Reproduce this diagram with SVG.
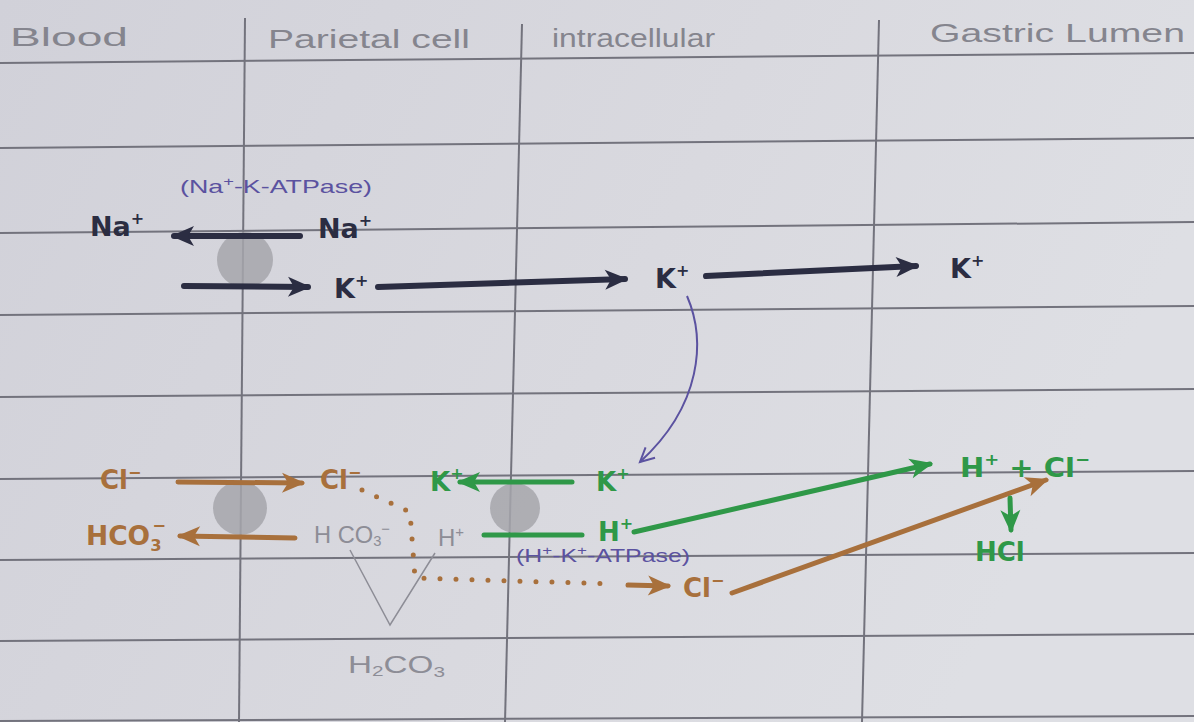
<svg xmlns="http://www.w3.org/2000/svg" width="1194" height="722" viewBox="0 0 1194 722">
<defs>
<linearGradient id="paper" x1="0" y1="0" x2="1" y2="0.3">
<stop offset="0" stop-color="#d1d1d9"/>
<stop offset="0.6" stop-color="#d9d9df"/>
<stop offset="1" stop-color="#dedfe4"/>
</linearGradient>
<marker id="hNavy" markerUnits="userSpaceOnUse" markerWidth="28" markerHeight="24" refX="22" refY="12" orient="auto"><path d="M2,2 L25,12 L2,22 L8,12 Z" fill="#2b2d42"/></marker>
<marker id="hBrown" markerUnits="userSpaceOnUse" markerWidth="28" markerHeight="24" refX="22" refY="12" orient="auto"><path d="M2,2 L25,12 L2,22 L8,12 Z" fill="#a8703c"/></marker>
<marker id="hGreen" markerUnits="userSpaceOnUse" markerWidth="28" markerHeight="24" refX="22" refY="12" orient="auto"><path d="M2,2 L25,12 L2,22 L8,12 Z" fill="#2f9848"/></marker>
<marker id="hPurple" markerUnits="userSpaceOnUse" markerWidth="24" markerHeight="20" refX="18" refY="10" orient="auto"><path d="M4,3 L18,10 L4,17" fill="none" stroke="#5b52a0" stroke-width="2"/></marker>
</defs>
<style>
.rule{stroke:#73737d;stroke-width:2;fill:none}
.hdr{font-family:"Liberation Sans",sans-serif;fill:#85858e;font-size:26px}
.navy{font-family:"DejaVu Sans",sans-serif;font-weight:bold;fill:#2b2d42;font-size:27px}
.brown{font-family:"DejaVu Sans",sans-serif;font-weight:bold;fill:#a8703c;font-size:26px}
.green{font-family:"DejaVu Sans",sans-serif;font-weight:bold;fill:#2f9848;font-size:26px}
.purple{font-family:"Liberation Sans",sans-serif;fill:#5b52a0;font-size:19px}
.pencil{font-family:"Liberation Sans",sans-serif;fill:#8d8d96;font-size:24px}
.sup{font-size:16px}
.purple .sup{font-size:13px}
.pencil .sup{font-size:15px}
.aN{stroke:#2b2d42;stroke-width:6;fill:none;stroke-linecap:round;marker-end:url(#hNavy)}
.aB{stroke:#a8703c;stroke-width:5;fill:none;stroke-linecap:round}
.aG{stroke:#2f9848;stroke-width:5;fill:none;stroke-linecap:round}
.pump{fill:#a6a6ac;opacity:0.85}
</style>
<rect width="1194" height="722" fill="url(#paper)"/>
<g id="paper-lines">
<path class="rule" d="M0,63 L1194,53" stroke-width="3"/>
<path class="rule" d="M0,148 L1194,138"/>
<path class="rule" d="M0,233 L1194,222"/>
<path class="rule" d="M0,315 L1194,306"/>
<path class="rule" d="M0,397 L1194,389"/>
<path class="rule" d="M0,479 L1194,471"/>
<path class="rule" d="M0,560 L1194,553"/>
<path class="rule" d="M0,641 L1194,634"/>
<path class="rule" d="M0,721 L1194,716"/>
<path class="rule" d="M245,18 L239,722" stroke-width="1.6"/>
<path class="rule" d="M522,24 L505,722" stroke-width="1.6"/>
<path class="rule" d="M879,20 L862,722" stroke-width="1.6"/>
</g>
<g id="headers">
<text class="hdr" x="10" y="46" textLength="118" lengthAdjust="spacingAndGlyphs" font-size="30">Blood</text>
<text class="hdr" x="268" y="48" textLength="202" lengthAdjust="spacingAndGlyphs">Parietal  cell</text>
<text class="hdr" x="552" y="47" textLength="163" lengthAdjust="spacingAndGlyphs">intracellular</text>
<text class="hdr" x="930" y="42" textLength="255" lengthAdjust="spacingAndGlyphs" font-size="28">Gastric  Lumen</text>
</g>
<g id="pumps">
<circle class="pump" cx="245" cy="260" r="28"/>
<circle class="pump" cx="240" cy="508" r="27"/>
<circle class="pump" cx="515" cy="508" r="25"/>
</g>
<g id="connectors">
<path class="aN" d="M300,236 L174,236"/>
<path class="aN" d="M184,286 L308,287"/>
<path class="aN" d="M378,287 L625,279"/>
<path class="aN" d="M706,276 L916,266"/>
<path d="M687,296 C706,340 702,405 640,462" fill="none" stroke="#5b52a0" stroke-width="2" marker-end="url(#hPurple)"/>
<path class="aB" d="M178,482 L302,483" marker-end="url(#hBrown)"/>
<path class="aB" d="M295,538 L180,536" marker-end="url(#hBrown)"/>
<path d="M362,490 L410,512 L415,578 L615,584" fill="none" stroke="#a8703c" stroke-width="5" stroke-linecap="round" stroke-dasharray="0 16"/>
<path class="aB" d="M628,585 L668,586" marker-end="url(#hBrown)"/>
<path class="aB" d="M732,593 L1046,480" stroke-width="4" marker-end="url(#hBrown)"/>
<path class="aG" d="M572,482 L460,482" marker-end="url(#hGreen)"/>
<path class="aG" d="M484,535 L582,535"/>
<path class="aG" d="M634,532 L930,464" marker-end="url(#hGreen)"/>
<path class="aG" d="M1010,498 L1011,530" stroke-width="4" marker-end="url(#hGreen)"/>
<path d="M350,550 L390,625 L435,553" fill="none" stroke="#8d8d96" stroke-width="1.5"/>
</g>
<g id="labels">
<text class="purple" x="180" y="193" textLength="192" lengthAdjust="spacingAndGlyphs">(Na<tspan class="sup" dy="-7">+</tspan><tspan dy="7">-K-ATPase)</tspan></text>
<text class="navy" x="90" y="236">Na<tspan class="sup" dy="-12">+</tspan></text>
<text class="navy" x="318" y="238">Na<tspan class="sup" dy="-12">+</tspan></text>
<text class="navy" x="334" y="298">K<tspan class="sup" dy="-12">+</tspan></text>
<text class="navy" x="655" y="288">K<tspan class="sup" dy="-12">+</tspan></text>
<text class="navy" x="950" y="278">K<tspan class="sup" dy="-12">+</tspan></text>
<text class="brown" x="100" y="489">Cl<tspan class="sup" dy="-11">−</tspan></text>
<text class="brown" x="320" y="489">Cl<tspan class="sup" dy="-11">−</tspan></text>
<text class="brown" x="86" y="545" textLength="80" lengthAdjust="spacingAndGlyphs">HCO<tspan class="sup" dy="6">3</tspan><tspan class="sup" dx="-9" dy="-20">−</tspan></text>
<text class="pencil" x="314" y="543" textLength="76" lengthAdjust="spacingAndGlyphs">H CO<tspan class="sup" dy="3">3</tspan><tspan class="sup" dy="-12">−</tspan></text>
<text class="pencil" x="438" y="546">H<tspan class="sup" dy="-9">+</tspan></text>
<text class="pencil" x="348" y="673" textLength="97" lengthAdjust="spacingAndGlyphs">H<tspan class="sup" dy="3">2</tspan><tspan dy="-3">CO</tspan><tspan class="sup" dy="4">3</tspan></text>
<text class="green" x="430" y="491">K<tspan class="sup" dy="-12">+</tspan></text>
<text class="green" x="596" y="491">K<tspan class="sup" dy="-12">+</tspan></text>
<text class="green" x="598" y="541">H<tspan class="sup" dy="-12">+</tspan></text>
<text class="purple" x="516" y="562" textLength="174" lengthAdjust="spacingAndGlyphs">(H<tspan class="sup" dy="-7">+</tspan><tspan dy="7">-K</tspan><tspan class="sup" dy="-7">+</tspan><tspan dy="7">-ATPase)</tspan></text>
<text class="brown" x="683" y="597">Cl<tspan class="sup" dy="-11">−</tspan></text>
<text class="green" x="960" y="477" textLength="130" lengthAdjust="spacingAndGlyphs">H<tspan class="sup" dy="-12">+</tspan><tspan dy="12"> + Cl</tspan><tspan class="sup" dy="-12">−</tspan></text>
<text class="green" x="975" y="561">HCl</text>
</g>
</svg>
